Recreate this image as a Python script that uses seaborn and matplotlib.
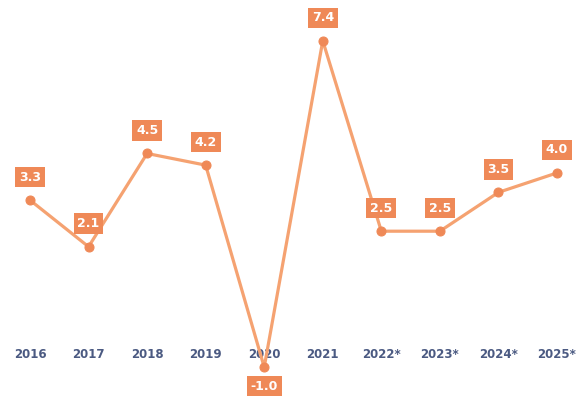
import matplotlib
matplotlib.use("Agg")
import matplotlib.pyplot as plt
import seaborn as sns
import pandas as pd

# GDP growth, %, with forecast years marked by an asterisk
years = ["2016", "2017", "2018", "2019", "2020", "2021", "2022*", "2023*", "2024*", "2025*"]
growth = [3.3, 2.1, 4.5, 4.2, -1.0, 7.4, 2.5, 2.5, 3.5, 4.0]
value_labels = ["3.3", "2.1", "4.5", "4.2", "-1.0", "7.4", "2.5", "2.5", "3.5", "4.0"]

LINE = "#F5A271"
BOX = "#EF8957"
TICK = "#4B5A82"

sns.set_theme(style="white")
plt.rcParams["font.family"] = ["DejaVu Sans"]

df = pd.DataFrame({"pos": range(len(years)), "growth": growth})

fig = plt.figure(figsize=(5.85, 3.98), dpi=100)
ax = fig.add_axes([0, 58 / 398, 1, 340 / 398])

sns.lineplot(data=df, x="pos", y="growth", ax=ax, color=LINE, linewidth=2.3,
             marker="o", markersize=6.5, markerfacecolor=BOX, markeredgecolor=BOX)
for ln in ax.lines:
    ln.set_clip_on(False)

ax.set_xlim(-0.512, 9.478)
ax.set_ylim(-0.30, 8.45)

for i, (v, lab) in enumerate(zip(growth, value_labels)):
    dy = -19 if v < 0 else 23
    ax.annotate(lab, (i, v), xytext=(0, dy), textcoords="offset pixels",
                ha="center", va="center", color="white", fontsize=9,
                fontweight="bold", annotation_clip=False,
                bbox=dict(boxstyle="square,pad=0.3", fc=BOX, ec="none"))

ax.set_xticks(range(len(years)))
ax.set_xticklabels(years, color=TICK, fontsize=8.5, fontweight="bold")
ax.tick_params(axis="x", length=0, pad=6)
ax.set_yticks([])
ax.set_xlabel("")
ax.set_ylabel("")
sns.despine(ax=ax, left=True, bottom=True)

fig.savefig("out.png", dpi=100, facecolor="white")
